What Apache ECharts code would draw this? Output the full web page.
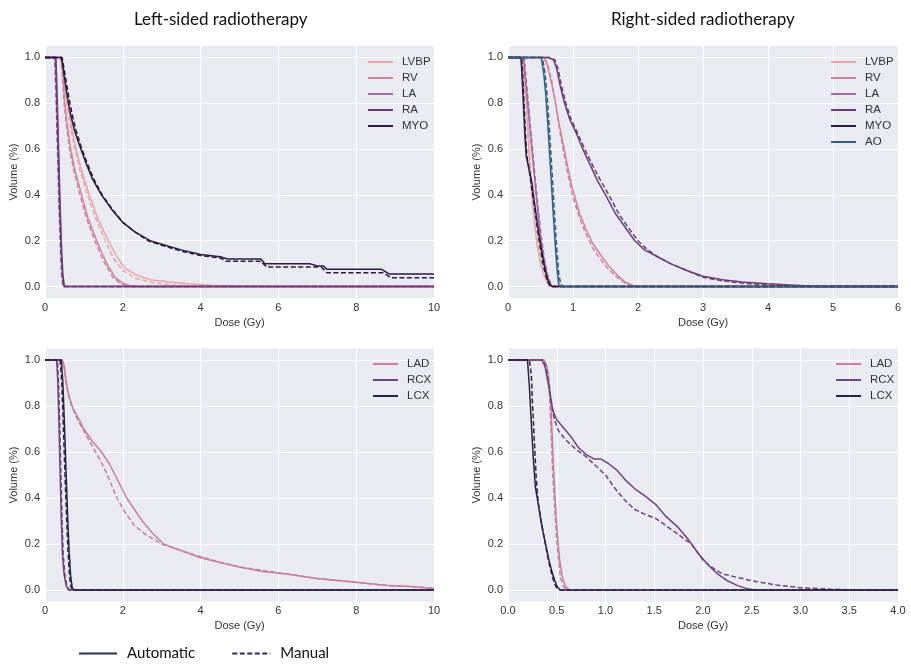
<!DOCTYPE html>
<html>
<head>
<meta charset="utf-8">
<script src="https://cdn.jsdelivr.net/npm/echarts@6/dist/echarts.min.js"></script>
<style>
  html, body { margin: 0; background: #fff; }
  #main { width: 911px; height: 667px; }
</style>
</head>
<body>
<div id="main"></div>
<script>
// dose-volume curves, [dose (Gy), volume] pairs

// left-sided, cardiac chambers
const leftLVBP = [[0,1],[0.44,1],[0.48,0.95],[0.53,0.87],[0.6,0.78],[0.7,0.68],[0.8,0.6],[0.95,0.5],[1.14,0.4],[1.35,0.3],[1.63,0.2],[1.85,0.13],[2.05,0.08],[2.35,0.05],[2.7,0.03],[3.2,0.02],[3.7,0.012],[4.3,0.006],[5.0,0.003],[5.5,0.001],[5.6,0],[10,0]];
const leftLVBPman = [[0,1],[0.42,1],[0.46,0.95],[0.51,0.87],[0.58,0.78],[0.67,0.68],[0.77,0.6],[0.91,0.5],[1.09,0.4],[1.3,0.3],[1.55,0.2],[1.77,0.12],[2.0,0.07],[2.35,0.035],[2.75,0.018],[3.2,0.008],[3.8,0.003],[4.3,0],[10,0]];
const leftRV = [[0,1],[0.42,1],[0.46,0.93],[0.5,0.82],[0.56,0.72],[0.66,0.6],[0.78,0.5],[0.94,0.4],[1.1,0.3],[1.33,0.2],[1.48,0.14],[1.62,0.09],[1.8,0.04],[2.0,0.015],[2.2,0.003],[2.4,0],[10,0]];
const leftRVman = [[0,1],[0.4,1],[0.44,0.93],[0.48,0.82],[0.54,0.72],[0.63,0.6],[0.75,0.5],[0.9,0.4],[1.06,0.3],[1.28,0.2],[1.43,0.14],[1.57,0.09],[1.75,0.04],[1.95,0.012],[2.15,0],[10,0]];
const leftLA = [[0,1],[0.27,1],[0.3,0.85],[0.34,0.6],[0.38,0.35],[0.42,0.15],[0.45,0.05],[0.48,0],[10,0]];
const leftLAman = [[0,1],[0.25,1],[0.28,0.85],[0.32,0.6],[0.36,0.35],[0.4,0.15],[0.43,0.05],[0.46,0],[10,0]];
const leftRA = [[0,1],[0.28,1],[0.31,0.85],[0.35,0.6],[0.39,0.35],[0.43,0.15],[0.46,0.05],[0.5,0],[10,0]];
const leftRAman = [[0,1],[0.26,1],[0.29,0.85],[0.33,0.6],[0.37,0.35],[0.41,0.15],[0.44,0.05],[0.48,0],[10,0]];
const leftMYO = [[0,1],[0.42,1],[0.46,0.96],[0.51,0.9],[0.58,0.82],[0.66,0.75],[0.76,0.68],[0.9,0.61],[1.05,0.54],[1.22,0.47],[1.45,0.4],[1.7,0.34],[2.0,0.28],[2.3,0.24],[2.7,0.2],[3.0,0.185],[3.5,0.16],[4.0,0.14],[4.5,0.13],[4.7,0.12],[5.55,0.12],[5.65,0.1],[6.8,0.1],[7.0,0.09],[7.15,0.09],[7.25,0.075],[8.65,0.075],[8.85,0.055],[10,0.055]];
const leftMYOman = [[0,1],[0.44,1],[0.48,0.96],[0.54,0.9],[0.62,0.82],[0.7,0.75],[0.8,0.68],[0.93,0.61],[1.08,0.54],[1.25,0.47],[1.47,0.4],[1.72,0.34],[2.0,0.28],[2.3,0.24],[2.65,0.2],[3.0,0.18],[3.5,0.155],[4.0,0.135],[4.5,0.125],[4.65,0.11],[5.55,0.11],[5.7,0.085],[7.1,0.085],[7.25,0.06],[8.7,0.06],[8.9,0.038],[10,0.038]];

// right-sided, cardiac chambers
const rightLVBP = [[0,1],[0.22,1],[0.25,0.9],[0.28,0.8],[0.31,0.65],[0.34,0.5],[0.37,0.38],[0.41,0.27],[0.45,0.18],[0.5,0.1],[0.55,0.05],[0.6,0.02],[0.66,0],[6,0]];
const rightLVBPman = [[0,1],[0.23,1],[0.26,0.9],[0.29,0.8],[0.32,0.65],[0.35,0.5],[0.38,0.38],[0.42,0.27],[0.46,0.18],[0.51,0.1],[0.56,0.05],[0.61,0.02],[0.67,0],[6,0]];
const rightRV = [[0,1],[0.55,1],[0.6,0.97],[0.66,0.9],[0.72,0.82],[0.78,0.72],[0.85,0.62],[0.92,0.52],[1.0,0.42],[1.1,0.32],[1.2,0.25],[1.3,0.19],[1.42,0.14],[1.55,0.09],[1.68,0.05],[1.8,0.02],[1.92,0.005],[2.0,0],[6,0]];
const rightRVman = [[0,1],[0.56,1],[0.61,0.97],[0.67,0.9],[0.73,0.8],[0.79,0.69],[0.86,0.58],[0.93,0.48],[1.0,0.39],[1.1,0.3],[1.2,0.23],[1.3,0.17],[1.42,0.12],[1.55,0.075],[1.68,0.04],[1.8,0.015],[1.9,0],[6,0]];
const rightLA = [[0,1],[0.24,1],[0.27,0.9],[0.31,0.78],[0.35,0.65],[0.4,0.5],[0.45,0.35],[0.5,0.22],[0.55,0.12],[0.6,0.05],[0.65,0.01],[0.68,0],[6,0]];
const rightLAman = [[0,1],[0.25,1],[0.28,0.9],[0.32,0.78],[0.36,0.65],[0.41,0.5],[0.46,0.35],[0.51,0.22],[0.56,0.12],[0.61,0.05],[0.66,0.01],[0.7,0],[6,0]];
const rightRA = [[0,1],[0.62,1],[0.7,0.99],[0.75,0.95],[0.8,0.88],[0.87,0.8],[0.95,0.73],[1.05,0.67],[1.15,0.6],[1.25,0.54],[1.38,0.46],[1.5,0.4],[1.65,0.32],[1.8,0.26],[1.95,0.2],[2.1,0.16],[2.3,0.13],[2.5,0.1],[2.75,0.07],[3.0,0.045],[3.3,0.03],[3.6,0.02],[4.0,0.012],[4.4,0.006],[4.8,0],[6,0]];
const rightRAman = [[0,1],[0.64,1],[0.72,0.99],[0.77,0.95],[0.82,0.88],[0.89,0.8],[0.97,0.73],[1.07,0.67],[1.18,0.6],[1.3,0.53],[1.43,0.46],[1.57,0.39],[1.72,0.31],[1.87,0.25],[2.0,0.2],[2.15,0.16],[2.3,0.13],[2.5,0.1],[2.75,0.07],[3.0,0.04],[3.3,0.025],[3.6,0.015],[4.0,0.007],[4.4,0.003],[4.8,0],[6,0]];
const rightMYO = [[0,1],[0.2,1],[0.22,0.9],[0.24,0.78],[0.26,0.66],[0.28,0.57],[0.31,0.53],[0.34,0.49],[0.37,0.45],[0.4,0.38],[0.44,0.3],[0.48,0.22],[0.52,0.15],[0.56,0.09],[0.6,0.04],[0.64,0.01],[0.68,0],[6,0]];
const rightMYOman = [[0,1],[0.21,1],[0.23,0.9],[0.25,0.78],[0.27,0.66],[0.29,0.57],[0.32,0.52],[0.35,0.46],[0.38,0.4],[0.41,0.34],[0.45,0.26],[0.49,0.18],[0.53,0.11],[0.57,0.06],[0.61,0.02],[0.65,0],[6,0]];
const rightAO = [[0,1],[0.51,1],[0.55,0.93],[0.58,0.84],[0.61,0.72],[0.64,0.58],[0.67,0.44],[0.7,0.3],[0.73,0.17],[0.76,0.06],[0.78,0.01],[0.8,0],[6,0]];
const rightAOman = [[0,1],[0.53,1],[0.57,0.93],[0.6,0.84],[0.63,0.72],[0.66,0.58],[0.69,0.44],[0.72,0.3],[0.75,0.17],[0.78,0.06],[0.81,0.01],[0.84,0],[6,0]];

// left-sided, coronaries
const leftLAD = [[0,1],[0.45,1],[0.5,0.97],[0.55,0.9],[0.62,0.84],[0.72,0.79],[0.85,0.75],[1.0,0.7],[1.2,0.65],[1.45,0.6],[1.65,0.55],[1.8,0.5],[1.95,0.45],[2.1,0.4],[2.3,0.35],[2.5,0.3],[2.75,0.25],[3.05,0.2],[3.35,0.18],[3.7,0.16],[4.0,0.14],[4.5,0.12],[5.0,0.1],[5.6,0.08],[6.2,0.07],[7.0,0.05],[7.6,0.04],[8.2,0.03],[8.8,0.02],[9.4,0.015],[10,0.006]];
const leftLADman = [[0,1],[0.44,1],[0.49,0.97],[0.54,0.9],[0.61,0.84],[0.71,0.79],[0.84,0.74],[1.0,0.69],[1.2,0.63],[1.4,0.57],[1.55,0.52],[1.7,0.46],[1.85,0.4],[2.05,0.34],[2.3,0.28],[2.6,0.24],[3.0,0.2],[3.35,0.18],[3.7,0.16],[4.0,0.145],[4.5,0.12],[5.0,0.1],[5.6,0.085],[6.2,0.07],[7.0,0.05],[7.6,0.04],[8.2,0.03],[8.8,0.02],[9.4,0.015],[10,0.008]];
const leftRCX = [[0,1],[0.3,1],[0.33,0.9],[0.36,0.72],[0.39,0.5],[0.42,0.3],[0.45,0.15],[0.49,0.07],[0.54,0.02],[0.6,0],[10,0]];
const leftRCXman = [[0,1],[0.32,1],[0.35,0.9],[0.38,0.72],[0.41,0.5],[0.44,0.3],[0.47,0.15],[0.51,0.07],[0.56,0.02],[0.62,0],[10,0]];
const leftLCX = [[0,1],[0.42,1],[0.46,0.9],[0.5,0.72],[0.54,0.52],[0.58,0.33],[0.62,0.17],[0.66,0.06],[0.7,0.01],[0.75,0],[10,0]];
const leftLCXman = [[0,1],[0.39,1],[0.43,0.9],[0.47,0.72],[0.51,0.52],[0.55,0.33],[0.59,0.17],[0.63,0.06],[0.67,0.01],[0.71,0],[10,0]];

// right-sided, coronaries
const rightLAD = [[0,1],[0.37,1],[0.4,0.97],[0.42,0.92],[0.44,0.8],[0.45,0.7],[0.47,0.5],[0.49,0.35],[0.51,0.22],[0.53,0.13],[0.56,0.05],[0.59,0.015],[0.63,0],[4,0]];
const rightLADman = [[0,1],[0.37,1],[0.4,0.97],[0.42,0.9],[0.43,0.8],[0.44,0.7],[0.46,0.5],[0.48,0.35],[0.5,0.22],[0.52,0.12],[0.54,0.05],[0.57,0.015],[0.6,0],[4,0]];
const rightRCX = [[0,1],[0.35,1],[0.38,0.97],[0.42,0.88],[0.46,0.78],[0.5,0.74],[0.56,0.71],[0.64,0.67],[0.72,0.62],[0.8,0.59],[0.88,0.57],[0.95,0.57],[1.03,0.55],[1.12,0.52],[1.2,0.48],[1.3,0.44],[1.4,0.41],[1.52,0.37],[1.62,0.32],[1.75,0.27],[1.85,0.22],[1.95,0.16],[2.05,0.11],[2.15,0.07],[2.25,0.04],[2.35,0.02],[2.45,0.006],[2.55,0],[4,0]];
const rightRCXman = [[0,1],[0.36,1],[0.39,0.97],[0.43,0.86],[0.47,0.75],[0.52,0.69],[0.6,0.65],[0.7,0.61],[0.8,0.58],[0.9,0.54],[1.0,0.5],[1.1,0.44],[1.2,0.39],[1.3,0.35],[1.4,0.33],[1.52,0.31],[1.62,0.28],[1.75,0.24],[1.88,0.2],[2.0,0.13],[2.12,0.09],[2.2,0.07],[2.35,0.055],[2.5,0.04],[2.75,0.022],[3.0,0.01],[3.3,0.004],[3.6,0],[4,0]];
const rightLCX = [[0,1],[0.2,1],[0.22,0.88],[0.24,0.72],[0.26,0.57],[0.28,0.45],[0.3,0.4],[0.33,0.32],[0.36,0.25],[0.39,0.19],[0.42,0.13],[0.45,0.08],[0.48,0.04],[0.51,0.01],[0.54,0],[4,0]];
const rightLCXman = [[0,1],[0.22,1],[0.24,0.93],[0.25,0.82],[0.27,0.65],[0.29,0.48],[0.31,0.38],[0.34,0.3],[0.37,0.23],[0.4,0.16],[0.43,0.1],[0.46,0.05],[0.49,0.015],[0.52,0],[4,0]];

const yTicks = [0, 0.2, 0.4, 0.6, 0.8, 1.0];
const xMax = [10, 6, 10, 4];
const xStep = [2, 1, 2, 0.5];

const colors = {
  LVBP: '#e6a6ab', RV: '#cf849a', LA: '#a8689a', RA: '#6c3d75', MYO: '#2a1c3a', AO: '#2f5f7c',
  LAD: '#c77e9b', RCX: '#6f4478', LCX: '#2c2341'
};

const myChart = echarts.init(document.getElementById('main'));

const grids = [
  { left: 45, top: 46, width: 389, height: 252 },
  { left: 508, top: 46, width: 390, height: 252 },
  { left: 45, top: 348.5, width: 389, height: 253 },
  { left: 508, top: 348.5, width: 390, height: 253 }
].map(g => Object.assign(g, { show: true, backgroundColor: '#eaeaf2', borderWidth: 0 }));

const tickFont = { color: '#333', fontSize: 11, fontFamily: 'Liberation Sans' };

const xAxes = grids.map((g, i) => ({
  type: 'value', gridIndex: i, min: 0, max: xMax[i], interval: xStep[i],
  name: 'Dose (Gy)', nameLocation: 'middle', nameGap: 19,
  nameTextStyle: tickFont,
  axisLine: { show: false }, axisTick: { show: false },
  axisLabel: Object.assign({ margin: 4, formatter: v => i === 3 ? v.toFixed(1) : String(v) }, tickFont),
  splitLine: { lineStyle: { color: '#fff', width: 1.2 } }
}));

const yAxes = grids.map((g, i) => ({
  type: 'value', gridIndex: i, min: -0.05, max: 1.05,
  name: 'Volume (%)', nameLocation: 'middle', nameGap: 26, nameTextStyle: tickFont,
  axisLine: { show: false },
  axisTick: { show: false, customValues: yTicks },
  axisLabel: Object.assign({ margin: 5, customValues: yTicks, formatter: v => v.toFixed(1) }, tickFont),
  splitLine: { lineStyle: { color: '#fff', width: 1.2 } }
}));

const series = [];
function addPair(panel, name, auto, manual) {
  const c = colors[name];
  series.push({
    name: name + ' manual', type: 'line', xAxisIndex: panel, yAxisIndex: panel, data: manual,
    symbol: 'none', lineStyle: { color: c, width: 1.5, type: [5, 2.5] }, itemStyle: { color: c }
  });
  series.push({
    name: name, type: 'line', xAxisIndex: panel, yAxisIndex: panel, data: auto,
    symbol: 'none', lineStyle: { color: c, width: 1.5 }, itemStyle: { color: c }
  });
}

addPair(0, 'LVBP', leftLVBP, leftLVBPman);
addPair(0, 'RV', leftRV, leftRVman);
addPair(0, 'LA', leftLA, leftLAman);
addPair(0, 'RA', leftRA, leftRAman);
addPair(0, 'MYO', leftMYO, leftMYOman);

addPair(1, 'LVBP', rightLVBP, rightLVBPman);
addPair(1, 'RV', rightRV, rightRVman);
addPair(1, 'LA', rightLA, rightLAman);
addPair(1, 'RA', rightRA, rightRAman);
addPair(1, 'MYO', rightMYO, rightMYOman);
addPair(1, 'AO', rightAO, rightAOman);

addPair(2, 'LAD', leftLAD, leftLADman);
addPair(2, 'RCX', leftRCX, leftRCXman);
addPair(2, 'LCX', leftLCX, leftLCXman);

addPair(3, 'LAD', rightLAD, rightLADman);
addPair(3, 'RCX', rightRCX, rightRCXman);
addPair(3, 'LCX', rightLCX, rightLCXman);

// empty series only for the shared Automatic / Manual key
series.push({ name: 'Automatic', type: 'line', data: [], symbol: 'none',
  lineStyle: { color: '#2a2f5c', width: 1.8 }, itemStyle: { color: '#2a2f5c' } });
series.push({ name: 'Manual', type: 'line', data: [], symbol: 'none',
  lineStyle: { color: '#2a2f5c', width: 1.8, type: [5, 2.5] }, itemStyle: { color: '#2a2f5c' } });

function panelLegend(left, top, names) {
  return {
    data: names, orient: 'vertical', left: left, top: top,
    itemWidth: 25, itemHeight: 12, itemGap: 4, selectedMode: false,
    itemStyle: { opacity: 0 },
    lineStyle: { width: 2 },
    textStyle: { color: '#333', fontSize: 11.5, fontFamily: 'Liberation Sans', padding: [0, 0, 0, 4] }
  };
}

myChart.setOption({
  animation: false,
  title: [
    { text: 'Left-sided radiotherapy', left: 129, top: 6,
      textStyle: { fontFamily: 'Lato', fontWeight: 'normal', fontSize: 17, color: '#111' } },
    { text: 'Right-sided radiotherapy', left: 606, top: 6,
      textStyle: { fontFamily: 'Lato', fontWeight: 'normal', fontSize: 17, color: '#111' } }
  ],
  grid: grids,
  xAxis: xAxes,
  yAxis: yAxes,
  legend: [
    panelLegend(362, 51, ['LVBP', 'RV', 'LA', 'RA', 'MYO']),
    panelLegend(825, 51, ['LVBP', 'RV', 'LA', 'RA', 'MYO', 'AO']),
    panelLegend(367, 353, ['LAD', 'RCX', 'LCX']),
    panelLegend(830, 353, ['LAD', 'RCX', 'LCX']),
    {
      data: ['Automatic', 'Manual'], orient: 'horizontal', left: 73, top: 641,
      itemWidth: 38, itemHeight: 14, itemGap: 36, selectedMode: false,
      itemStyle: { opacity: 0 },
      textStyle: { color: '#111', fontSize: 15, fontFamily: 'Lato', padding: [0, 0, 0, 5] }
    }
  ],
  series: series
});
</script>
</body>
</html>
